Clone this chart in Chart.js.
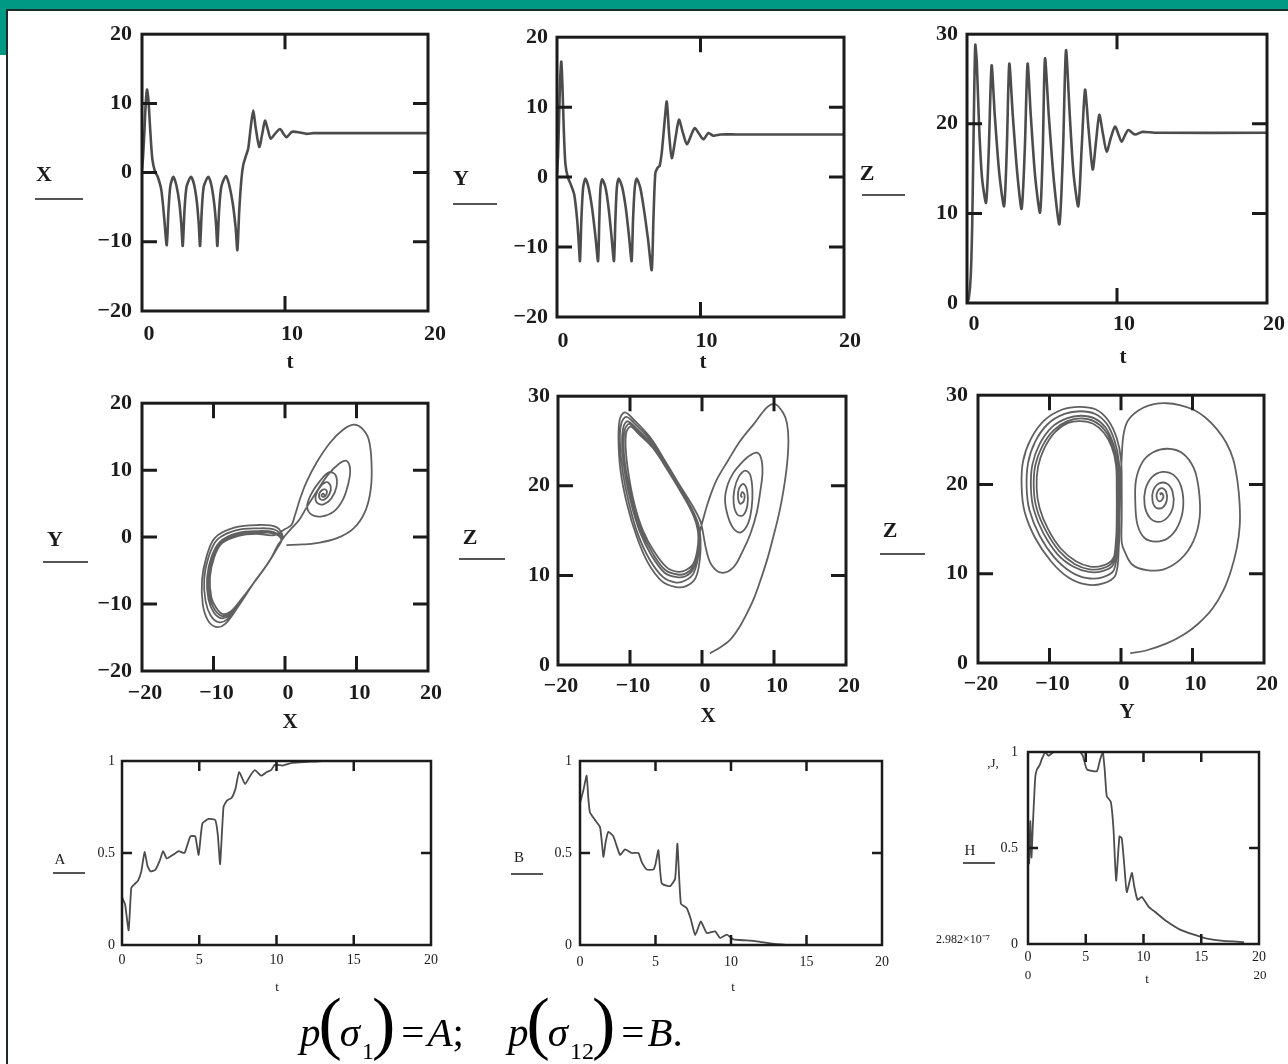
<!DOCTYPE html>
<html>
<head>
<meta charset="utf-8">
<title>Lorenz system: time series, phase portraits, A, B, H</title>
<script src="https://cdn.jsdelivr.net/npm/chart.js@4.4.1/dist/chart.umd.min.js"></script>
<style>
  html, body { margin: 0; padding: 0; background: #fff; }
  body { width: 1288px; height: 1064px; position: relative; overflow: hidden; font-family: "Liberation Serif", serif; }
  #bar { position: absolute; left: 0; top: 0; width: 1288px; height: 9px; background: #009a84; }
  #side { position: absolute; left: 0; top: 0; width: 6px; height: 55px; background: #009a84; }
  #ruleTop { position: absolute; left: 6px; top: 9px; width: 1282px; height: 2px; background: #1d2b29; }
  #ruleLeft { position: absolute; left: 6px; top: 9px; width: 2px; height: 1055px; background: #1d2b29; }
  canvas { position: absolute; }
  #formula { position: absolute; left: 300px; top: 988px; font-size: 41px; line-height: 1; white-space: nowrap; color: #000; }
  #formula i { font-style: italic; }
  #formula .par { font-size: 70px; font-style: normal; margin: 0 -2px; }
  #formula sub { font-size: 24px; vertical-align: -13px; line-height: 1; margin-left: 2px; }
  #formula .eq { margin: 0 3px 0 8px; }
  #formula .gap { display: inline-block; width: 44px; }
</style>
</head>
<body>
<div id="bar"></div>
<div id="side"></div>
<div id="ruleTop"></div>
<div id="ruleLeft"></div>

<canvas id="c1"></canvas>
<canvas id="c2"></canvas>
<canvas id="c3"></canvas>
<canvas id="c4"></canvas>
<canvas id="c5"></canvas>
<canvas id="c6"></canvas>
<canvas id="c7"></canvas>
<canvas id="c8"></canvas>
<canvas id="c9"></canvas>

<div id="formula"><i>p</i><span class="par">(</span><i>σ</i><sub>1</sub><span class="par">)</span><span class="eq">=</span><i>A</i>;<span class="gap"></span><i>p</i><span class="par">(</span><i>σ</i><sub>12</sub><span class="par">)</span><span class="eq">=</span><i>B</i>.</div>

<script>
// tick values
const ticksPM20 = [-20, -10, 0, 10, 20];
const ticksT = [0, 10, 20];
const ticksZ = [0, 10, 20, 30];
const ticksT5 = [0, 5, 10, 15, 20];
const ticksUnit = [0, 0.5, 1];

// X(t)
const tX = [0, 0.08, 0.17, 0.26, 0.35, 0.45, 0.58, 0.72, 0.9, 1.1, 1.35, 1.55, 1.73,
  1.85, 1.98, 2.19, 2.4, 2.62, 2.75, 2.85,
  2.97, 3.12, 3.43, 3.65, 3.85, 3.97, 4.06,
  4.18, 4.32, 4.64, 4.85, 5.05, 5.18, 5.27,
  5.39, 5.55, 5.87, 6.1, 6.35, 6.55, 6.67,
  6.8, 6.95, 7.08, 7.25, 7.43, 7.6, 7.78, 7.95, 8.2, 8.4, 8.6, 8.8, 9.0, 9.3, 9.65, 9.9, 10.1, 10.5, 11.05, 11.5, 12, 20];
const valX = [0.5, 2.5, 6, 10, 12, 10.5, 6, 2, 0.2, -0.6, -2.5, -6.5, -10.5,
  -5.5, -2, -0.6, -1.8, -4.5, -7.5, -10.6,
  -5.5, -2, -0.6, -1.8, -4.5, -7.5, -10.6,
  -5.5, -2, -0.6, -1.8, -4.5, -7.5, -10.6,
  -5.5, -2, -0.5, -1.8, -4.5, -8, -11.2,
  -5.5, -1, 1.1, 2.3, 3.5, 6.5, 9, 6.5, 3.7, 5.5, 7.5, 6.2, 4.9, 5.6, 6.3, 5.6, 5.1, 5.9, 5.8, 5.6, 5.7, 5.7];

// Y(t)
const tY = [0, 0.07, 0.14, 0.22, 0.3, 0.38, 0.47, 0.58, 0.75, 0.95, 1.2, 1.4, 1.52, 1.6,
  1.7, 1.82, 1.98, 2.2, 2.45, 2.68, 2.86,
  2.95, 3.03, 3.15, 3.38, 3.6, 3.8, 3.97,
  4.07, 4.17, 4.3, 4.55, 4.8, 5.02, 5.2,
  5.3, 5.42, 5.55, 5.8, 6.05, 6.35, 6.6,
  6.72, 6.85, 7.0, 7.15, 7.3, 7.5, 7.65, 7.82, 8.0, 8.25, 8.5, 8.75, 9.05, 9.35, 9.6, 9.9, 10.2, 10.55, 10.9, 11.4, 12.5, 20];
const valY = [0.5, 3, 8, 14, 16.5, 13, 7, 2, 0, -1, -2.5, -6, -9.5, -12,
  -6, -1.5, -0.2, -1.5, -4.5, -8.5, -12,
  -6, -1.5, -0.3, -1.5, -4.5, -8.5, -12,
  -6, -1.5, -0.2, -1.5, -4.5, -8.5, -12,
  -6, -1.5, -0.2, -1.5, -4.5, -9, -13.3,
  -6, 0.5, 1.3, 1.6, 3.5, 8, 10.8, 6, 2.7, 5.5, 8.2, 6.5, 4.7, 6, 7, 6.2, 5.4, 6.3, 5.9, 6.1, 6.1, 6.1];

// Z(t)
const tZ = [0, 0.12, 0.25, 0.35, 0.45, 0.55, 0.65, 0.8, 1.0, 1.27, 1.45, 1.64, 1.85, 2.15, 2.47, 2.65, 2.82,
  3.05, 3.35, 3.64, 3.85, 4.04, 4.25, 4.55, 4.87, 5.05, 5.2, 5.45, 5.8, 6.16, 6.4, 6.6, 6.85, 7.1, 7.42,
  7.65, 7.87, 8.1, 8.38, 8.6, 8.82, 9.05, 9.31, 9.6, 9.87, 10.1, 10.31, 10.55, 10.76, 11.2, 11.7, 12.5, 20];
const valZ = [0, 0.5, 3, 9, 20, 28.8, 27, 20, 14, 11.2, 17, 26.5, 21, 14.5, 10.8, 17, 26.7,
  21, 14.5, 10.5, 17, 26.7, 21, 14, 10.1, 17, 27.3, 21, 13.5, 8.8, 17, 28.2, 21, 14.5, 10.8,
  17.5, 23.8, 19.5, 14.9, 18, 21, 19, 16.9, 18.5, 19.7, 18.8, 18.0, 18.8, 19.3, 18.8, 19.1, 19, 19];

// phase portrait Y over X
const xyTail = [[0.2,-1.2],[2.5,-1.1],[4.4,-0.9],[7.2,-0.2],[9.6,1.3],[11.2,3.8],[12.0,7.2],[12.1,11.1],
  [11.7,14.6],[10.7,16.3],[9.6,16.8],[8.2,16.1],[6.3,14.1],[4.4,11.1],[3.0,8.2],[2.1,5.7],[1.4,3.3],[0.9,1.8],[0,1.2]];
const xyLobe = [
  [-1.5,0.3],[-4,0.5],[-6.5,0.2],[-8.8,-0.9],[-9.9,-3],[-10.5,-6],[-10.3,-9],[-9.6,-10.6],[-8.7,-11.5],[-7.6,-11.1],[-6.2,-9.4],[-4.2,-6.6],[-2.3,-3.8],[-1,-1.5],[-0.5,-0.4],
  [-1.5,0.5],[-4,0.7],[-6.6,0.4],[-8.9,-0.8],[-10.1,-3],[-10.7,-6],[-10.5,-9.1],[-9.8,-10.9],[-8.8,-11.8],[-7.7,-11.4],[-6.2,-9.5],[-4.2,-6.6],[-2.3,-3.8],[-1,-1.4],[-0.5,-0.3],
  [-1.5,0.7],[-4,0.9],[-6.7,0.6],[-9.1,-0.7],[-10.3,-3],[-10.9,-6.1],[-10.7,-9.3],[-10,-11.2],[-9,-12.1],[-7.8,-11.7],[-6.3,-9.6],[-4.2,-6.6],[-2.3,-3.8],[-1,-1.3],[-0.4,-0.2],
  [-1.4,1.1],[-4,1.3],[-6.9,1.0],[-9.5,-0.4],[-10.7,-3],[-11.3,-6.2],[-11.1,-9.6],[-10.4,-11.7],[-9.3,-12.7],[-8.1,-12.3],[-6.4,-9.9],[-4.3,-6.7],[-2.3,-3.8],[-1,-1.2],[-0.3,0],
  [-1.2,1.5],[-4,1.8],[-7.1,1.4],[-9.8,-0.1],[-11,-3],[-11.6,-6.3],[-11.5,-10],[-10.8,-12.4],[-9.7,-13.4],[-8.4,-13],[-6.5,-10.3],[-4.4,-6.9],[-2.4,-3.9],[-1,-1.4]];
const xySpiral = [[0,0.2],[0.9,1.3],[2,2.6],[3,4.4],[4.3,6.6],[6,9.3],[7.6,11],[8.6,11.4],[9.1,10.2],[8.9,8.2],
  [8.1,5.6],[6.8,3.8],[5.2,3.1],[3.8,3.3],[3.1,4.5],[3.6,6.3],[4.9,8.4],[6.2,9.7],[7.1,9.2],[7.2,7.5],
  [6.5,5.8],[5.4,4.9],[4.5,5.1],[4.3,6.2],[5,7.6],[5.9,8.2],[6.4,7.5],[6.2,6.4],[5.5,5.6],[4.9,5.7],
  [4.8,6.5],[5.3,7.1],[5.8,7.0],[5.8,6.4],[5.4,6.0],[5.1,6.2],[5.3,6.5],[5.5,6.3],[5.4,6.2]];

// phase portrait Z over X
const xzTail = [[1.1,1.3],[2.4,1.9],[3.9,2.8],[5.1,4.1],[6.2,5.7],[7.2,7.4],[8.1,9.4],[9.1,11.9],[9.9,14.3],
  [10.7,16.9],[11.3,19.4],[11.8,22.3],[12.0,25],[11.8,27],[11.3,28.1],[10.2,29.1],[9.1,28.8],[7.3,27],
  [5.3,25],[3.6,22.8],[2.0,20.6],[0.9,18.3],[0.2,16.4],[-0.3,14.8]];
const xzLobe = [
  [-0.6,13],[-1.2,11.3],[-2.2,10.6],[-3.3,10.4],[-4.9,10.9],[-6.6,12.6],[-8.2,15],[-9.4,18],[-10.2,21.3],[-10.6,24.2],[-10.5,26.0],[-9.9,26.6],[-8.8,25.8],[-6.8,24.2],[-4.8,21.8],[-3.0,19.4],[-1.6,17.4],[-0.8,15.8],[-0.5,14.3],
  [-0.7,12.6],[-1.3,10.9],[-2.3,10.2],[-3.4,10.1],[-5.1,10.6],[-6.8,12.4],[-8.4,14.9],[-9.6,18],[-10.5,21.4],[-10.9,24.4],[-10.7,26.3],[-10.1,26.9],[-9.0,26.1],[-6.9,24.4],[-4.9,21.9],[-3.0,19.4],[-1.6,17.4],[-0.7,15.8],[-0.4,14.2],
  [-0.6,12.4],[-1.3,10.6],[-2.3,9.9],[-3.5,9.8],[-5.2,10.3],[-7.0,12.2],[-8.6,14.8],[-9.8,17.9],[-10.7,21.4],[-11.1,24.6],[-10.9,26.6],[-10.3,27.2],[-9.1,26.4],[-7.0,24.6],[-4.9,22],[-3.0,19.5],[-1.5,17.4],[-0.6,15.7],[-0.3,14.1],
  [-0.5,12.2],[-1.2,10.2],[-2.4,9.4],[-3.6,9.2],[-5.4,9.8],[-7.3,11.8],[-8.9,14.6],[-10.1,17.9],[-11.0,21.5],[-11.4,24.9],[-11.2,27.0],[-10.5,27.7],[-9.3,26.9],[-7.1,25],[-5.0,22.3],[-3.0,19.6],[-1.4,17.4],[-0.5,15.7],[-0.2,14],
  [-0.3,11.8],[-0.9,9.7],[-2.2,8.8],[-3.6,8.7],[-5.5,9.3],[-7.5,11.4],[-9.1,14.4],[-10.4,17.9],[-11.3,21.6],[-11.6,25.2],[-11.4,27.5],[-10.7,28.2],[-9.5,27.4],[-7.2,25.4],[-5.0,22.6],[-2.9,19.8],[-1.2,17.6],[-0.2,16.0],[0.2,14.5]];
const xzSpiral = [[0.6,12.8],[1.3,11.2],[2.7,10.3],[4.35,10.9],[5.7,12.8],[6.7,14.6],[7.6,17],[8.1,19.4],[8.4,21.5],[8.2,23.1],
  [7.6,23.7],[6.5,23.3],[5.3,22.4],[4.4,21.5],[3.6,20.2],[3.2,18.5],[3.6,16.6],[4.4,15.2],[5.4,14.8],[6.4,15.8],
  [6.9,17.6],[7.0,19.5],[6.7,21.2],[6.0,21.7],[5.1,21.0],[4.5,19.6],[4.4,18.0],[4.9,16.8],[5.7,16.7],[6.3,17.8],
  [6.3,19.3],[5.8,20.2],[5.2,19.8],[5.0,18.8],[5.3,18.0],[5.8,18.3],[5.9,19.0],[5.6,19.3],[5.4,18.9],[5.6,18.7]];

// phase portrait Z over Y
const yzTail = [[1.3,1.1],[3.5,1.4],[6.4,2.2],[8.8,3.2],[10.8,4.4],[12.8,6.1],[14.3,8.1],[15.4,10.4],[16.2,12.9],
  [16.6,15.3],[16.6,17.7],[16.3,20.3],[15.7,22.8],[14.7,24.7],[13.4,26.2],[11.8,27.5],[10.1,28.4],[8.2,28.9],
  [6.4,29.1],[4.6,29.0],[3.1,28.6],[1.8,27.9],[0.8,26.9],[0.3,25.3],[0.1,23],[-0.1,20],[-0.2,16.5],[-0.4,13.5]];
const yzLobe = [
  [-1.2,11.6],[-2.6,10.9],[-4.3,10.8],[-6.3,11.4],[-8.4,12.8],[-10.2,15],[-11.4,17.4],[-11.8,19.6],[-11.6,22],[-10.7,24.1],[-9.2,25.9],[-7.4,26.9],[-5.6,27.1],[-3.9,26.8],[-2.4,25.8],[-1.3,24.2],[-0.7,22.2],[-0.6,19.5],[-0.6,16.5],[-0.7,13.8],
  [-1.2,11.3],[-2.6,10.6],[-4.4,10.5],[-6.5,11.1],[-8.6,12.5],[-10.5,14.8],[-11.8,17.3],[-12.2,19.6],[-12.0,22.1],[-11.0,24.3],[-9.4,26.1],[-7.5,27.1],[-5.6,27.4],[-3.8,27.1],[-2.3,26.1],[-1.2,24.4],[-0.6,22.3],[-0.5,19.5],[-0.5,16.5],[-0.6,13.6],
  [-1.1,11.0],[-2.6,10.3],[-4.5,10.2],[-6.7,10.8],[-8.9,12.2],[-10.9,14.6],[-12.2,17.2],[-12.6,19.6],[-12.4,22.2],[-11.4,24.5],[-9.7,26.4],[-7.6,27.4],[-5.6,27.7],[-3.7,27.4],[-2.2,26.4],[-1.1,24.6],[-0.5,22.4],[-0.4,19.5],[-0.4,16.4],[-0.5,13.4],
  [-1.0,10.4],[-2.6,9.6],[-4.7,9.5],[-7.0,10.2],[-9.3,11.8],[-11.4,14.3],[-12.8,17.1],[-13.2,19.7],[-13.0,22.4],[-12.0,24.8],[-10.2,26.8],[-7.9,27.9],[-5.7,28.2],[-3.6,27.9],[-2.0,26.8],[-0.9,24.9],[-0.3,22.6],[-0.2,19.5],[-0.2,16.3],[-0.3,13.1],
  [-0.8,9.8],[-2.6,8.9],[-4.9,8.8],[-7.4,9.6],[-9.8,11.4],[-12.0,14.0],[-13.5,17.0],[-13.9,19.8],[-13.7,22.6],[-12.6,25.1],[-10.7,27.2],[-8.2,28.4],[-5.8,28.7],[-3.5,28.4],[-1.8,27.2],[-0.6,25.2],[0,22.8],[0.1,19.5],[0.1,16.2],[0.1,13.5]];
const yzSpiral = [[0.5,12.5],[1.6,11.0],[3.6,10.4],[6.0,10.5],[8.3,11.6],[10.1,13.6],[11,16.3],[10.9,19.3],[10.2,21.8],[8.6,23.5],
  [6.5,24.0],[4.5,23.6],[3.0,22.5],[2.1,20.5],[2.0,18],[2.3,15.5],[3.3,14.0],[4.9,13.6],[6.6,14.0],[8.0,15.4],
  [8.7,17.5],[8.4,19.8],[7.3,21.1],[5.8,21.4],[4.3,20.8],[3.4,19.4],[3.3,17.7],[4.0,16.3],[5.2,15.8],[6.5,16.3],
  [7.3,17.6],[7.2,19.2],[6.4,20.1],[5.3,20.1],[4.5,19.3],[4.4,18.2],[4.9,17.4],[5.8,17.4],[6.4,18.2],[6.3,19.2],
  [5.7,19.6],[5.1,19.2],[5.0,18.5],[5.4,18.1],[5.9,18.5],[5.8,19.0],[5.5,19.0],[5.6,18.8]];

// A(t) = p(sigma1)
const tA = [0, 0.2, 0.43, 0.6, 0.8, 1.04, 1.25, 1.46, 1.65, 1.84, 2.17, 2.45, 2.66, 2.9, 3.3, 3.67, 4.05, 4.42, 4.74, 4.96,
  5.2, 5.6, 6.03, 6.2, 6.35, 6.57, 6.79, 7.1, 7.35, 7.58, 7.97, 8.3, 8.6, 9.0, 9.37, 9.65, 9.9, 10.4, 11, 12, 13, 20];
const valA = [0.26, 0.22, 0.08, 0.31, 0.33, 0.35, 0.4, 0.505, 0.43, 0.4, 0.41, 0.46, 0.51, 0.47, 0.49, 0.51, 0.5, 0.59, 0.59, 0.49,
  0.66, 0.685, 0.68, 0.6, 0.44, 0.75, 0.785, 0.8, 0.85, 0.94, 0.875, 0.92, 0.95, 0.92, 0.94, 0.95, 0.98, 0.975, 0.99, 0.995, 1.0, 1.0];

// B(t) = p(sigma12)
const tB = [0, 0.22, 0.44, 0.55, 0.66, 0.99, 1.33, 1.55, 1.7, 1.88, 2.21, 2.65, 2.98, 3.43, 3.87, 4.09, 4.42, 4.86, 5.0, 5.19,
  5.41, 5.97, 6.3, 6.45, 6.68, 7.07, 7.34, 7.63, 8.0, 8.4, 8.95, 9.28, 9.72, 10.17, 11.0, 11.7, 13.0, 14.5, 20];
const valB = [0.77, 0.84, 0.92, 0.8, 0.72, 0.68, 0.64, 0.48, 0.56, 0.615, 0.59, 0.49, 0.52, 0.5, 0.5, 0.45, 0.41, 0.41, 0.44, 0.515,
  0.335, 0.32, 0.36, 0.55, 0.225, 0.2, 0.14, 0.054, 0.128, 0.065, 0.074, 0.038, 0.056, 0.03, 0.025, 0.02, 0.005, 0, 0];

// H(t)
const tH = [0, 0.1, 0.2, 0.3, 0.42, 0.63, 0.78, 1.0, 1.21, 1.5, 1.78, 2.21, 3.2, 4.5, 4.75, 5.1, 5.96, 6.24, 6.48, 6.65,
  6.82, 7.17, 7.4, 7.63, 7.92, 8.12, 8.35, 8.55, 8.99, 9.2, 9.48, 9.86, 10.43, 11.15, 12.0, 13.16, 14.3, 15.5, 16.9, 18.7];
const valH = [0.55, 0.42, 0.64, 0.45, 0.62, 0.87, 0.91, 0.93, 0.965, 1.0, 0.98, 1.0, 1.0, 1.0, 0.98, 0.91, 0.9, 0.96, 1.0, 0.9,
  0.77, 0.74, 0.6, 0.33, 0.56, 0.55, 0.4, 0.27, 0.37, 0.3, 0.23, 0.245, 0.195, 0.16, 0.118, 0.075, 0.05, 0.028, 0.016, 0.01];

const SERIF = '"Liberation Serif", "Times New Roman", serif';
const INK = '#1b1b1b';
const P = (xs, ys) => xs.map((x, i) => ({x: x, y: ys[i]}));
const Q = pairs => pairs.map(p => ({x: p[0], y: p[1]}));
const fmt = v => v < 0 ? '\u2212' + (-v) : String(v);

const panels = [
  {id: 'c1', box: [142, 31, 428, 311], x: [0, 20, ticksT], y: [-20, 20, ticksPM20], pts: P(tX, valX), big: true,
   padX: 10, padY: 10, offX: 7, name: ['X', 44, 175], rule: [35, 83, 199], notes: [['t', 290, 363]]},
  {id: 'c2', box: [557, 35, 844, 317], x: [0, 20, ticksT], y: [-20, 20, ticksPM20], pts: P(tY, valY), big: true,
   padX: 11, padY: 9, offX: 6, name: ['Y', 461, 179], rule: [453, 497, 204], notes: [['t', 703, 363]]},
  {id: 'c3', box: [967, 32, 1267, 303], x: [0, 20, ticksT], y: [0, 30, ticksZ], pts: P(tZ, valZ), big: true,
   padX: 8, padY: 9, offX: 7, name: ['Z', 867, 174], rule: [862, 905, 195], notes: [['t', 1123, 358]]},
  {id: 'c4', box: [142, 400, 428, 671], x: [-20, 20, ticksPM20], y: [-20, 20, ticksPM20], pts: Q(xyTail.concat(xyLobe, xySpiral)),
   big: true, phase: true, padX: 9, padY: 10, offX: 3, name: ['Y', 55, 540], rule: [43, 88, 562], notes: [['X', 290, 723]]},
  {id: 'c5', box: [558, 395, 846, 665], x: [-20, 20, ticksPM20], y: [0, 30, ticksZ], pts: Q(xzTail.concat(xzLobe, xzSpiral)),
   big: true, phase: true, padX: 8, padY: 8, offX: 3, name: ['Z', 470, 538], rule: [459, 505, 559], notes: [['X', 708, 717]]},
  {id: 'c6', box: [978, 392, 1264, 663], x: [-20, 20, ticksPM20], y: [0, 30, ticksZ], pts: Q(yzTail.concat(yzLobe, yzSpiral)),
   big: true, phase: true, padX: 8, padY: 10, offX: 3, name: ['Z', 890, 531], rule: [880, 925, 554], notes: [['Y', 1127, 713]]},
  {id: 'c7', box: [122, 761, 431, 945], x: [0, 20, ticksT5], y: [0, 1, ticksUnit], pts: P(tA, valA), big: false,
   padX: 7, padY: 7, offX: 0, name: ['A', 60, 860], rule: [53, 85, 873], notes: [['t', 277, 988]]},
  {id: 'c8', box: [580, 761, 882, 945], x: [0, 20, ticksT5], y: [0, 1, ticksUnit], pts: P(tB, valB), big: false,
   padX: 9, padY: 8, offX: 0, name: ['B', 519, 858], rule: [511, 543, 874], notes: [['t', 733, 988]]},
  {id: 'c9', box: [1028, 752, 1259, 944], x: [0, 20, ticksT5], y: [0, 1, ticksUnit], pts: P(tH, valH), big: false,
   padX: 5, padY: 10, offX: 0, name: ['H', 970, 851], rule: [963, 995, 863],
   notes: [['t', 1147, 980], ['0', 1028, 976], ['20', 1260, 976], ['2.982\u00d710\u207b\u2077', 963, 940], [',J,', 993, 764]]}
];

// box with inward ticks on all four sides, like the Mathcad plot frame
function framePlugin(lw, len) {
  return {
    id: 'frame',
    afterDatasetsDraw(chart) {
      const {ctx, chartArea: a, scales: {x, y}} = chart;
      ctx.save();
      ctx.strokeStyle = INK;
      ctx.lineWidth = lw;
      ctx.strokeRect(a.left, a.top, a.right - a.left, a.bottom - a.top);
      ctx.beginPath();
      x.ticks.forEach(tk => {
        if (tk.value <= x.min || tk.value >= x.max) return;
        const px = x.getPixelForValue(tk.value);
        ctx.moveTo(px, a.top); ctx.lineTo(px, a.top + len);
        ctx.moveTo(px, a.bottom); ctx.lineTo(px, a.bottom - len);
      });
      y.ticks.forEach(tk => {
        if (tk.value <= y.min || tk.value >= y.max) return;
        const py = y.getPixelForValue(tk.value);
        ctx.moveTo(a.left, py); ctx.lineTo(a.left + len, py);
        ctx.moveTo(a.right, py); ctx.lineTo(a.right - len, py);
      });
      ctx.stroke();
      ctx.restore();
    }
  };
}

// trace name with its legend line, axis names and the extra range labels
function notesPlugin(p, dx, dy) {
  return {
    id: 'notes',
    afterDraw(chart) {
      const ctx = chart.ctx;
      ctx.save();
      ctx.fillStyle = INK;
      ctx.textAlign = 'center';
      ctx.textBaseline = 'middle';
      ctx.font = (p.big ? 'bold 22px ' : '15px ') + SERIF;
      ctx.fillText(p.name[0], p.name[1] - dx, p.name[2] - dy);
      ctx.strokeStyle = '#555';
      ctx.lineWidth = 2;
      ctx.beginPath();
      ctx.moveTo(p.rule[0] - dx, p.rule[2] - dy);
      ctx.lineTo(p.rule[1] - dx, p.rule[2] - dy);
      ctx.stroke();
      p.notes.forEach(n => {
        if (p.big) ctx.font = 'bold 21px ' + SERIF;
        else ctx.font = (n[0].length > 3 ? '12px ' : '13px ') + SERIF;
        ctx.fillText(n[0], n[1] - dx, n[2] - dy);
      });
      ctx.restore();
    }
  };
}

function makeChart(p) {
  const [l, t, r, b] = p.box;
  const padL = 115, padT = 20, padR = 30, padB = 75;
  const cv = document.getElementById(p.id);
  const w = r - l + padL + padR, h = b - t + padT + padB;
  cv.width = w; cv.height = h;
  cv.style.left = (l - padL) + 'px';
  cv.style.top = (t - padT) + 'px';
  cv.style.width = w + 'px';
  cv.style.height = h + 'px';
  const tickFont = p.big ? {family: SERIF, size: 22, weight: 'bold'} : {family: SERIF, size: 14};

  new Chart(cv, {
    type: 'scatter',
    data: {
      datasets: [{
        data: p.pts,
        showLine: true,
        pointRadius: 0,
        borderColor: p.phase ? 'rgba(35,35,35,0.72)' : 'rgba(45,45,45,0.85)',
        borderWidth: p.phase ? 1.8 : (p.big ? 2.6 : 1.8),
        tension: p.phase ? 0.35 : (p.big ? 0.25 : 0.15)
      }]
    },
    options: {
      responsive: false,
      animation: false,
      devicePixelRatio: 1,
      layout: {padding: {top: padT, right: padR, left: 0, bottom: 0}},
      plugins: {legend: {display: false}, tooltip: {enabled: false}},
      scales: {
        x: {
          type: 'linear', position: 'bottom', min: p.x[0], max: p.x[1],
          grid: {display: false, drawTicks: false, tickLength: 0}, border: {display: false},
          afterBuildTicks: s => { s.ticks = p.x[2].map(v => ({value: v})); },
          afterFit: s => { s.height = padB; },
          ticks: {autoSkip: false, maxRotation: 0, padding: p.padX, labelOffset: p.offX, font: tickFont, color: INK, callback: v => fmt(v)}
        },
        y: {
          type: 'linear', position: 'left', min: p.y[0], max: p.y[1],
          grid: {display: false, drawTicks: false, tickLength: 0}, border: {display: false},
          afterBuildTicks: s => { s.ticks = p.y[2].map(v => ({value: v})); },
          afterFit: s => { s.width = padL; },
          ticks: {autoSkip: false, padding: p.padY, font: tickFont, color: INK, callback: v => fmt(v)}
        }
      }
    },
    plugins: [framePlugin(p.big ? 3 : 2.5, p.big ? 15 : 10), notesPlugin(p, l - padL, t - padT)]
  });
}

panels.forEach(makeChart);
</script>
</body>
</html>
